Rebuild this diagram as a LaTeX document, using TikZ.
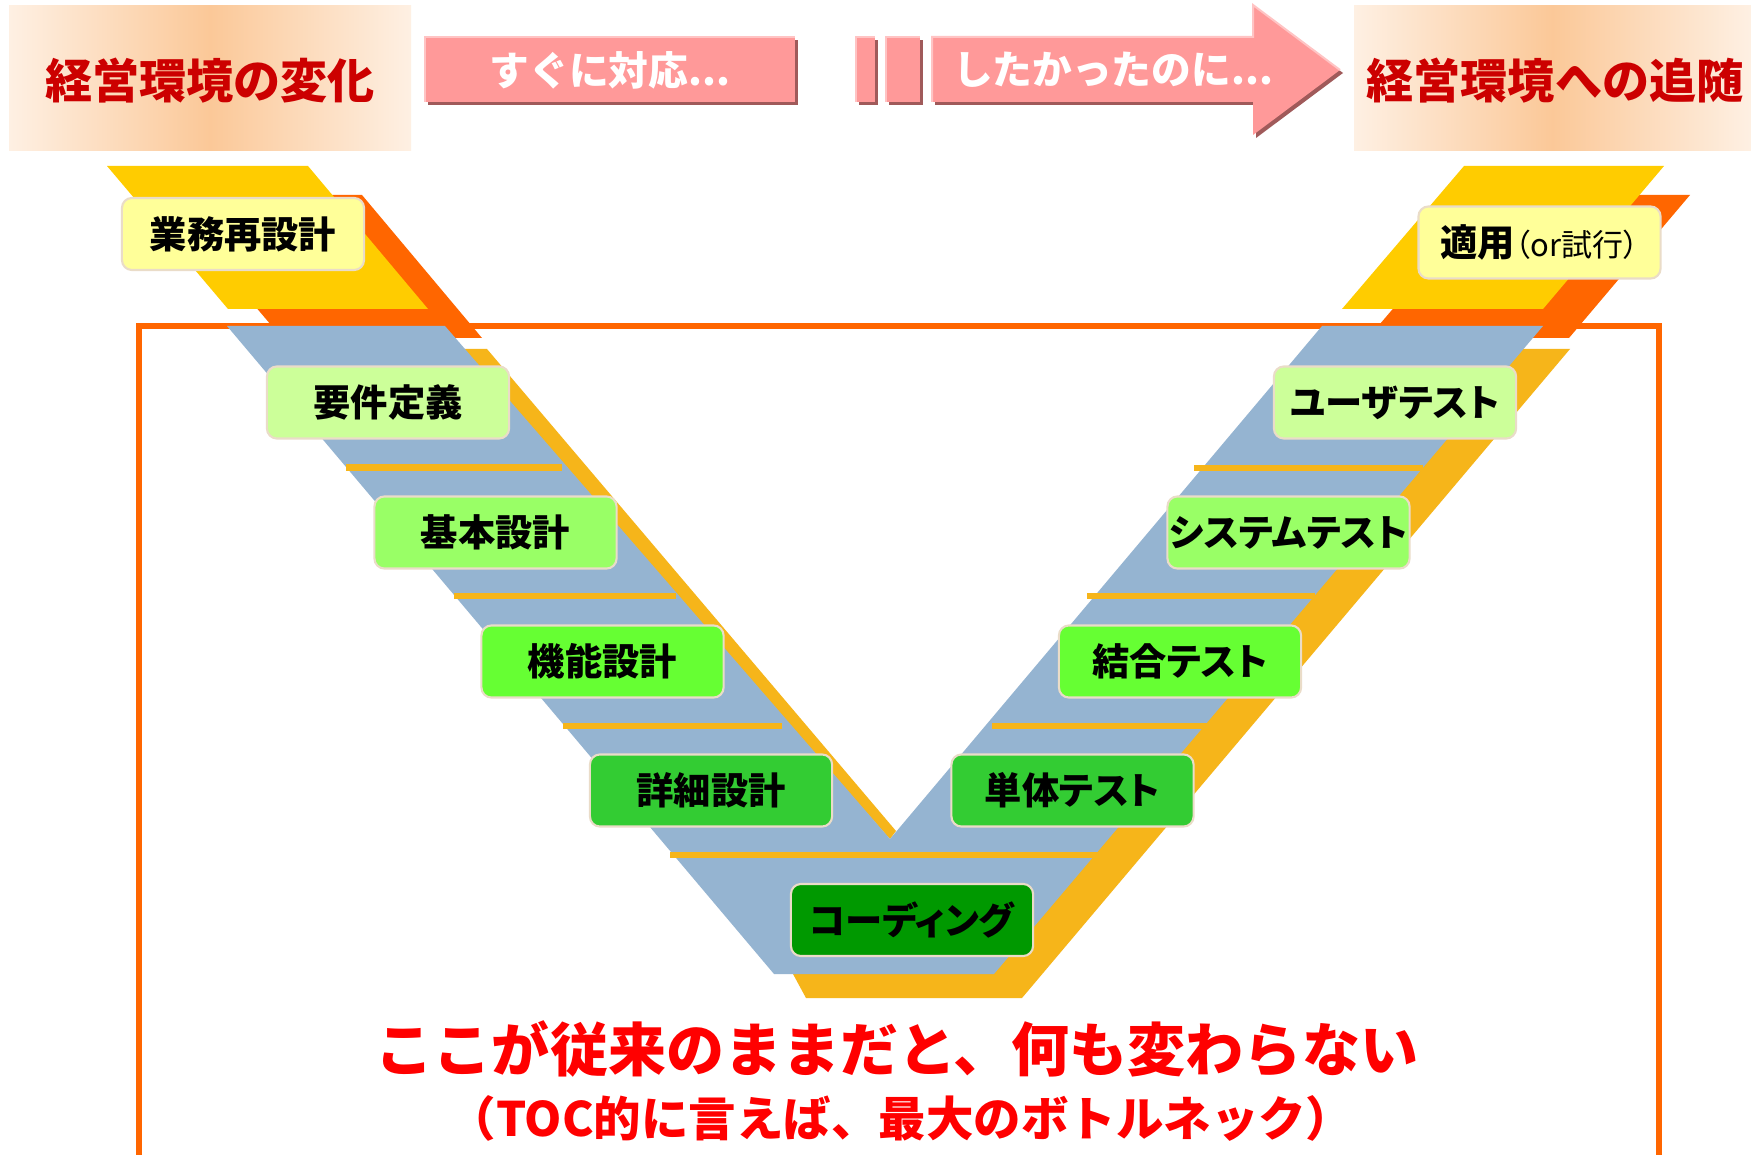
\documentclass[tikz,border=0pt]{standalone}
\usepackage{fontspec}
\setmainfont{Noto Sans CJK JP}
\newfontfamily\jpprop{Noto Sans CJK JP}[RawFeature=+palt]
\definecolor{hdrL}{HTML}{FEF0E3}
\definecolor{hdrM}{HTML}{FBC898}
\definecolor{hdrText}{HTML}{CC0000}
\definecolor{pinkF}{HTML}{FF9999}
\definecolor{pinkHi}{HTML}{FFC4C4}
\definecolor{pinkSh}{HTML}{A05A5A}
\definecolor{frameO}{HTML}{FF6600}
\definecolor{goldT}{HTML}{FFCC00}
\definecolor{goldV}{HTML}{F6B51A}
\definecolor{blueV}{HTML}{95B4D1}
\definecolor{boxLine}{HTML}{EADCC8}
\definecolor{fillA}{HTML}{FFFF99}
\definecolor{fillB}{HTML}{CCFF99}
\definecolor{fillC}{HTML}{99FF66}
\definecolor{fillD}{HTML}{66FF33}
\definecolor{fillE}{HTML}{33CC33}
\definecolor{fillF}{HTML}{009900}
\definecolor{redText}{HTML}{FF0000}
\begin{document}
\begin{tikzpicture}[x=0.01cm,y=-0.01cm,
  stagebox/.style={draw=boxLine, line width=0.6pt, rounded corners=0.1cm,
    minimum width=2.42cm, minimum height=0.72cm, inner sep=0pt,
    font=\jpprop\bfseries\fontsize{10.6pt}{13pt}\selectfont, text=black},
  hdrtext/.style={font=\fontsize{13.4pt}{16pt}\selectfont\bfseries, text=hdrText, inner sep=0pt},
  pinktext/.style={font=\fontsize{11.3pt}{13pt}\selectfont\bfseries, text=white, inner sep=0pt},
  goldline/.style={draw=goldV, line width=0.065cm},
  frameline/.style={draw=frameO, line width=0.06cm},
  msgtext/.style={text=redText, inner sep=0pt}
]
\useasboundingbox (0,0) rectangle (1751,1155);
\fill[white] (0,0) rectangle (1751,1155);

% ---------- headers ----------
\shade[left color=hdrL, right color=hdrL, middle color=hdrM] (9,6) rectangle (411,151);
\shade[left color=hdrL, right color=hdrL, middle color=hdrM] (1354,6) rectangle (1751,151);
\node[hdrtext] (hdrLeft) at (210,81) {経営環境の変化};
\node[hdrtext] (hdrRight) at (1555,81) {経営環境への追随};

% ---------- pink banner ----------
\fill[pinkSh] (428,40) rectangle (798,105);
\fill[pinkF] (425,37) rectangle (795,102);
\draw[pinkHi, line width=0.02cm] (425,102) -- (425,37) -- (795,37);
\fill[pinkSh] (859,40) rectangle (878,105);
\fill[pinkF] (856,37) rectangle (875,102);
\draw[pinkHi, line width=0.02cm] (856,102) -- (856,37) -- (875,37);
\fill[pinkSh] (889,40) rectangle (923,105);
\fill[pinkF] (886,37) rectangle (920,102);
\draw[pinkHi, line width=0.02cm] (886,102) -- (886,37) -- (920,37);
\fill[pinkSh] (935,40) -- (1256,40) -- (1256,8) -- (1343,73) -- (1256,138) -- (1256,105) -- (935,105) -- cycle;
\fill[pinkF] (932,37) -- (1253,37) -- (1253,5) -- (1340,70) -- (1253,135) -- (1253,102) -- (932,102) -- cycle;
\draw[pinkHi, line width=0.02cm] (932,102) -- (932,37) -- (1253,37) -- (1253,5) -- (1340,70);
\node[pinktext] (banner1) at (610,70) {すぐに対応...};
\node[pinktext] (banner2) at (1113,70) {したかったのに...};

% ---------- frame ----------
\draw[frameline] (139,1170) -- (139,326) -- (1659,326) -- (1659,1170);

% ---------- top parallelograms ----------
\fill[frameO] (161,195) -- (362,195) -- (482,338) -- (282,338) -- cycle;
\fill[goldT] (107,166) -- (308,166) -- (428,309) -- (228,309) -- cycle;
\fill[frameO] (1490,195) -- (1690,195) -- (1569,338) -- (1368,338) -- cycle;
\fill[goldT] (1464,166) -- (1664,166) -- (1543,309) -- (1342,309) -- cycle;

% ---------- V shadows ----------
\fill[goldV] (455,349) -- (487,349) -- (896,831) -- (890,839) -- cycle;
\fill[goldV] (1505,349) -- (1570,349) -- (1022,998) -- (806,998) -- (793,974) -- (900,900) -- cycle;

% ---------- V body ----------
\fill[blueV] (227,326) -- (445,326) -- (890,839) -- (1322,326) -- (1543,326) -- (994,974) -- (774,974) -- cycle;

% ---------- separators ----------
\draw[goldline] (346,467.5) -- (562,467.5);
\draw[goldline] (454,596) -- (676,596);
\draw[goldline] (563,726) -- (782,726);
\draw[goldline] (670,855) -- (1100,855);
\draw[goldline] (1194,468) -- (1423,468);
\draw[goldline] (1087,596) -- (1315,596);
\draw[goldline] (992,726) -- (1208,726);

% ---------- stage boxes ----------
\node[stagebox, fill=fillA] (gyomu) at (243,234) {業務再設計};
\node[stagebox, fill=fillA] (tekiyo) at (1539.5,242.5) {適用{\mdseries\fontsize{8.8pt}{10pt}\selectfont（or試行）}};
\node[stagebox, fill=fillB] (yoken) at (388,402.5) {要件定義};
\node[stagebox, fill=fillC] (kihon) at (495.5,532.5) {基本設計};
\node[stagebox, fill=fillD] (kino) at (602.5,661.5) {機能設計};
\node[stagebox, fill=fillE] (shosai) at (711,790.5) {詳細設計};
\node[stagebox, fill=fillF] (coding) at (912,920) {コーディング};
\node[stagebox, fill=fillB] (user) at (1395,402.5) {ユーザテスト};
\node[stagebox, fill=fillC] (system) at (1288.5,532.5) {システムテスト};
\node[stagebox, fill=fillD] (ketsugo) at (1180,661.5) {結合テスト};
\node[stagebox, fill=fillE] (tantai) at (1072.5,790.5) {単体テスト};

% ---------- message ----------
\node[msgtext, font=\fontsize{16.5pt}{18pt}\selectfont\bfseries] (msg1) at (897,1049) {ここが従来のままだと、何も変わらない};
\node[msgtext, font=\fontsize{13.5pt}{15pt}\selectfont\bfseries] (msg2) at (901,1118) {（TOC的に言えば、最大のボトルネック）};
\end{tikzpicture}
\end{document}
